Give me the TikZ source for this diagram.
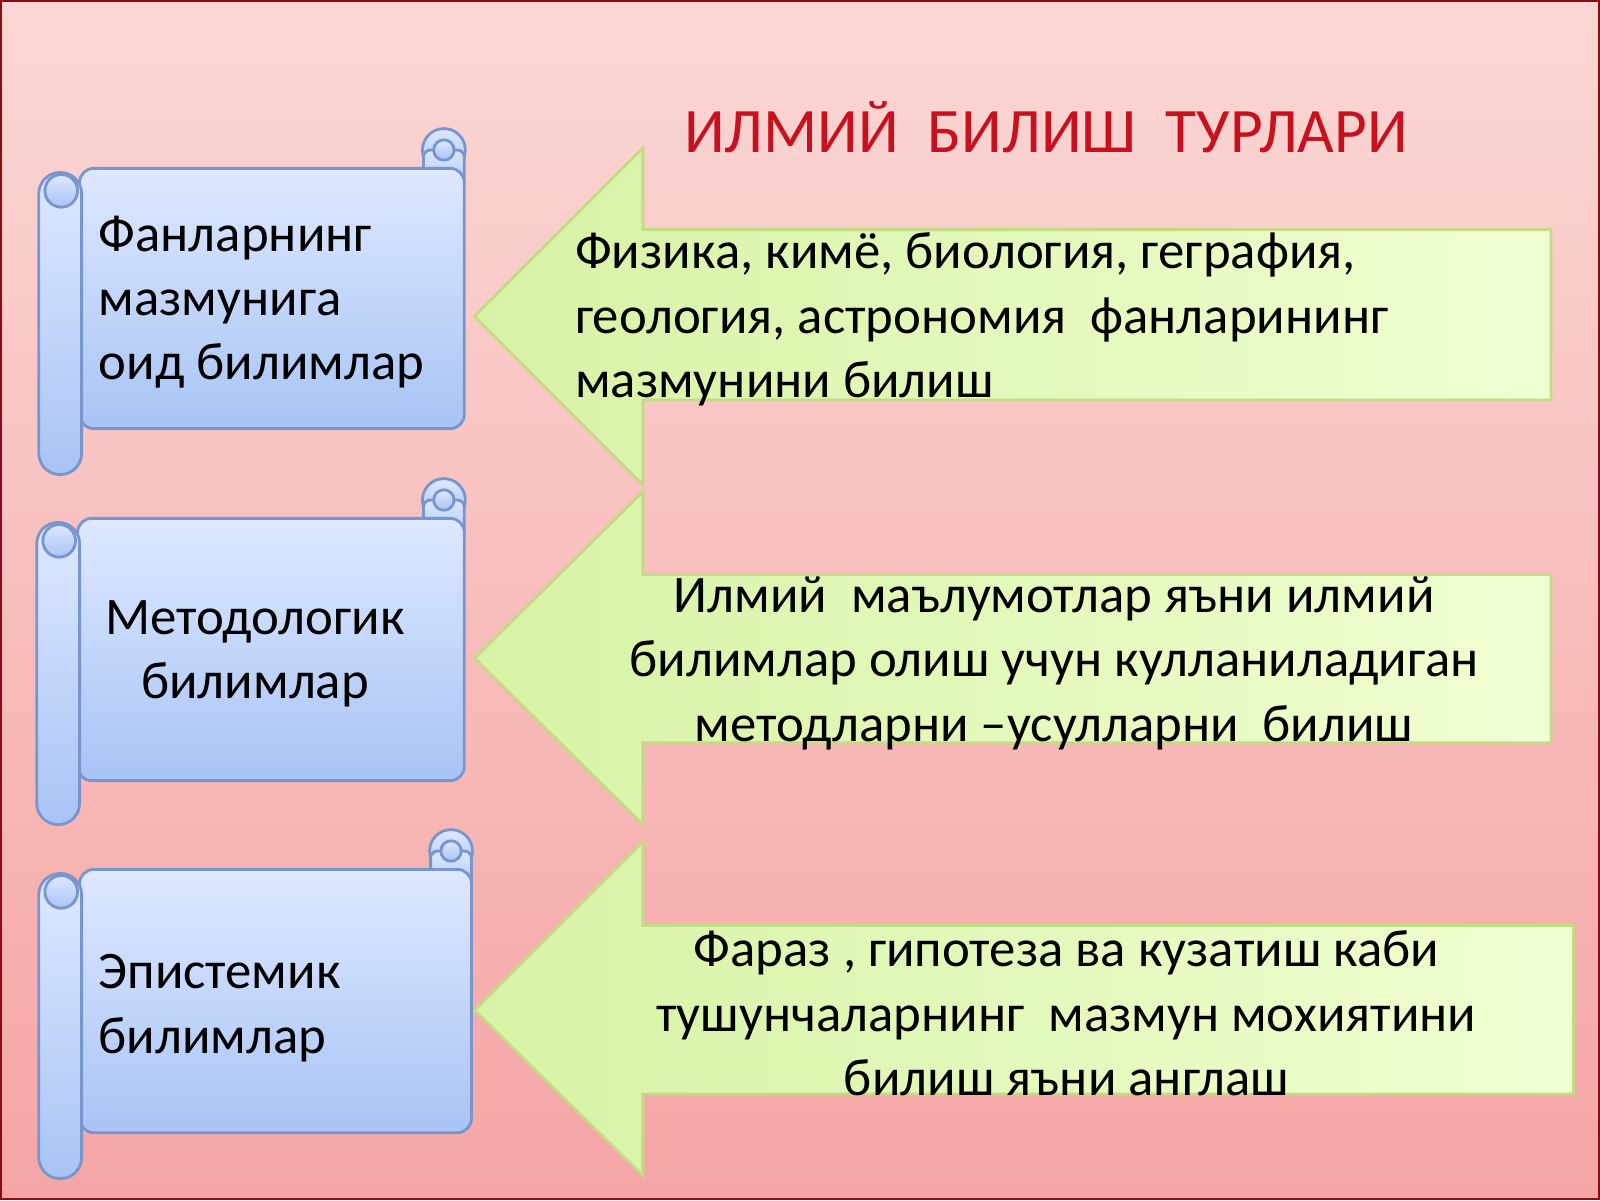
\documentclass[tikz,border=0pt]{standalone}
\usepackage{fontspec}
\setmainfont{Carlito}
\usetikzlibrary{positioning}
\definecolor{bgtop}{RGB}{250,215,212}
\definecolor{bgbot}{RGB}{245,165,165}
\definecolor{scrtop}{RGB}{222,232,255}
\definecolor{scrbot}{RGB}{168,196,245}
\definecolor{scrline}{RGB}{120,150,205}
\definecolor{arrleft}{RGB}{215,242,165}
\definecolor{arrright}{RGB}{240,255,210}
\definecolor{arrline}{RGB}{195,220,130}
\definecolor{titlered}{RGB}{200,16,30}
\tikzset{
  scroll/.style={draw=scrline, thick, top color=scrtop, bottom color=scrbot},
  blockarrow/.style={draw=arrline, thick, left color=arrleft, right color=arrright},
  label/.style={font=\fontsize{15}{18.3}\selectfont, inner sep=0pt},
}
% scroll: left x, top y, right x, bottom y of body, bottom of roll
\newcommand\scrollshape[5]{%
  \draw[scroll] (#3-20,#2-18) circle[radius=21];
  \draw[scroll, rounded corners=2pt] (#3-40,#2-18) rectangle (#3,#2+20);
  \draw[scroll, rounded corners=4pt] (#1+40,#2) rectangle (#3,#4);
  \draw[scroll, rounded corners=6pt] (#1,#2+4) rectangle (#1+42,#5);
  \draw[scroll] (#1+22,#2+22) circle[radius=16];
  \draw[scroll] (#3-20,#2-18) circle[radius=10];
}
\begin{document}
\begin{tikzpicture}[x=0.0102cm,y=-0.0102cm]
  \useasboundingbox (0,0) rectangle (1568,1176);
  \shade[top color=bgtop, bottom color=bgbot, draw=titlered!70!black, thin] (1,1) rectangle (1567,1175);
  % scrolls
  \scrollshape{38}{165}{455}{420}{465}
  \scrollshape{36}{508}{455}{765}{808}
  \scrollshape{38}{852}{462}{1110}{1155}
  % arrows
  \draw[blockarrow] (465,310) -- (630,145) -- (630,225) -- (1520,225) -- (1520,392) -- (630,392) -- (630,475) -- cycle;
  \draw[blockarrow] (465,645) -- (630,482) -- (630,563) -- (1520,563) -- (1520,728) -- (630,728) -- (630,808) -- cycle;
  \draw[blockarrow] (465,990) -- (630,825) -- (630,907) -- (1542,907) -- (1542,1072) -- (630,1072) -- (630,1152) -- cycle;
  % texts
  \node[font=\fontsize{18}{22}\selectfont, text=titlered] (title) at (1025,125) {ИЛМИЙ\ \ БИЛИШ\ \ ТУРЛАРИ};
  \node[label, align=left, anchor=west] (fan) at (96,296) {Фанларнинг\\мазмунига\\оид билимлар};
  \node[label, align=center] (metod) at (250,641) {Методологик\\билимлар};
  \node[label, align=left, anchor=west] (epist) at (96,988) {Эпистемик\\билимлар};
  \node[label, align=left, anchor=west] (fizika) at (563,313) {Физика, кимё, биология, геграфия,\\геология, астрономия\ \ фанларининг\\мазмунини билиш};
  \node[label, align=center] (ilmiy) at (1033,650) {Илмий\ \ маълумотлар яъни илмий\\билимлар олиш учун кулланиладиган\\методларни –усулларни\ \ билиш};
  \node[label, align=center] (faraz) at (1045,993) {Фараз , гипотеза ва кузатиш каби\\тушунчаларнинг\ \ мазмун мохиятини\\билиш яъни англаш};
\end{tikzpicture}
\end{document}
